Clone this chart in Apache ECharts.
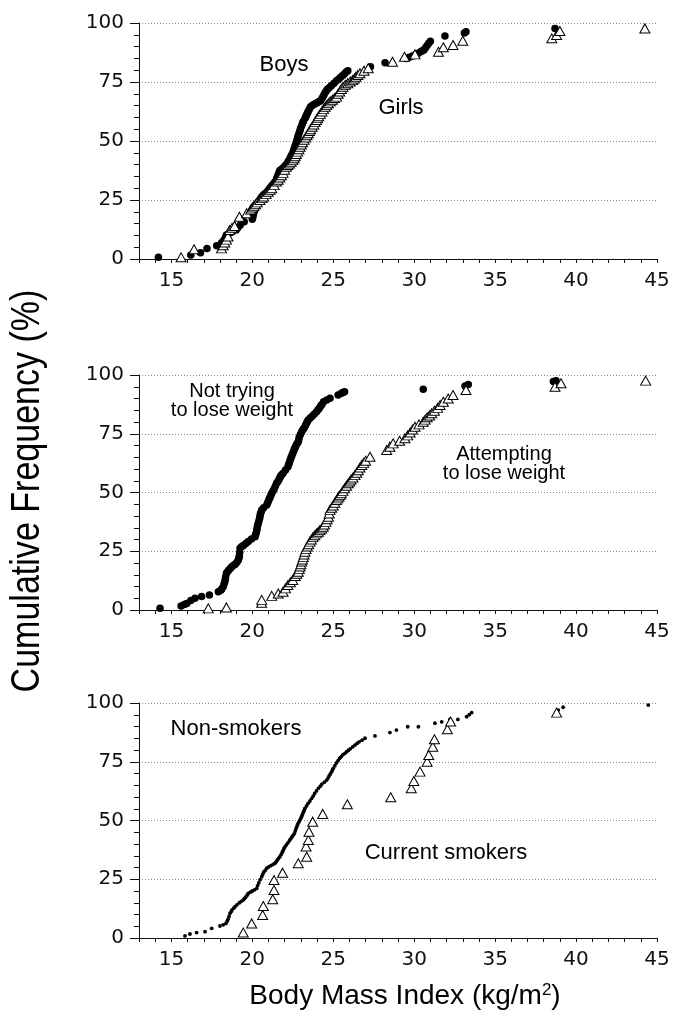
<!DOCTYPE html>
<html>
<head>
<meta charset="utf-8">
<script src="https://cdn.jsdelivr.net/npm/echarts@6/dist/echarts.min.js"></script>
<style>html,body{margin:0;padding:0;background:#fff;}#c{width:675px;height:1013px;}</style>
</head>
<body>
<div id="c"></div>
<script>
// ---- Data (BMI kg/m2, cumulative frequency %) ----
const boys = [[14.2,0.7],[16.2,1.7],[16.8,2.7],[17.2,4.5],[17.8,5.6],[18.1,6.9],[18.25,8],[18.35,9.2],[18.4,10.2],[18.55,10.8],[18.7,11.3],[19.0,12.3],[19.1,13.2],[19.25,14.3],[19.5,15.8],[20.0,16.8],[20.03,17.8],[20.06,18.8],[20.1,19.8],[20.15,20.8],[20.2,21.6],[20.25,22.3],[20.3,23],[20.35,23.8],[20.4,24.5],[20.5,25.5],[20.6,26.5],[20.7,27.2],[20.8,27.8],[20.9,28.4],[21.0,29.2],[21.1,30.2],[21.2,31],[21.3,31.8],[21.4,32.7],[21.5,34],[21.55,34.8],[21.6,35.7],[21.65,36.6],[21.7,37.5],[21.8,38],[21.9,38.6],[22.0,39.3],[22.1,40],[22.2,41.2],[22.28,42],[22.35,43],[22.42,44],[22.5,45],[22.55,46],[22.6,47],[22.65,48],[22.7,49],[22.75,50.2],[22.8,51.5],[22.85,52.5],[22.9,53.5],[22.95,54.5],[22.98,55.4],[23.05,56.5],[23.1,57.5],[23.15,58.3],[23.25,59.5],[23.3,60.3],[23.35,61],[23.4,61.8],[23.45,62.5],[23.52,63.5],[23.6,64.5],[23.7,65],[23.8,65.5],[23.9,65.9],[24.0,66.2],[24.1,66.6],[24.2,67],[24.28,67.8],[24.35,68.5],[24.42,69.5],[24.5,70.5],[24.58,71.3],[24.65,72],[24.78,72.8],[24.9,73.5],[25.05,74.5],[25.2,75.5],[25.33,76.2],[25.45,77],[25.58,77.8],[25.7,78.5],[25.8,79.2],[25.9,79.8],[27.3,81.5],[28.2,83.2],[29.5,85],[29.7,85.5],[29.9,86],[30.05,86.4],[30.25,87.2],[30.4,87.8],[30.5,88.2],[30.6,88.6],[30.7,89.5],[30.8,90.5],[30.9,91.4],[31.0,92.3],[31.9,94.5],[33.1,95.8],[33.2,96.3],[38.7,97.7]];
const girls = [[15.6,0.7],[16.4,4.1],[18.1,4.5],[18.2,5.8],[18.3,7],[18.4,8.2],[18.5,9.5],[18.6,12.3],[18.75,13.2],[18.9,14],[19.2,17.9],[19.65,19.4],[19.9,21],[20.0,21.8],[20.1,22.5],[20.2,23.2],[20.3,24],[20.47,25],[20.6,25.8],[20.7,26.5],[20.85,27.5],[20.98,28.5],[21.1,29.3],[21.2,30],[21.35,31.3],[21.5,32.8],[21.6,33.6],[21.7,34.5],[21.8,35.5],[21.9,36.5],[22.0,37.8],[22.1,39.1],[22.2,39.8],[22.3,40.5],[22.4,41.2],[22.5,41.9],[22.58,42.7],[22.65,43.5],[22.72,44.5],[22.8,45.5],[22.88,46.5],[22.95,47.6],[23.03,48.5],[23.1,49.5],[23.2,50.5],[23.3,51.5],[23.38,52.4],[23.46,53.3],[23.53,54.2],[23.6,55],[23.7,56],[23.8,57],[23.88,58],[23.97,58.9],[24.03,59.7],[24.1,60.5],[24.2,61.5],[24.3,62.5],[24.4,63.5],[24.5,64.5],[24.6,65.2],[24.7,66],[24.82,66.8],[24.95,67.5],[25.08,68.2],[25.2,68.8],[25.3,70],[25.4,71],[25.5,72],[25.6,73],[25.75,73.8],[25.9,74.5],[26.05,75.2],[26.2,75.8],[26.3,76.5],[26.4,77.2],[26.52,78],[26.65,78.7],[26.9,79.8],[27.16,80.8],[28.66,83.6],[29.4,85.7],[30.05,86.7],[31.5,87.8],[31.8,89.7],[32.4,90.7],[33.0,92.5],[38.5,93.5],[38.8,94.9],[39.0,96.6],[44.25,97.7]];
const notTrying = [[14.3,0.7],[15.6,1.7],[15.8,2.3],[15.95,2.8],[16.2,4],[16.46,5],[16.87,5.7],[17.35,6.4],[17.9,7.8],[18.05,8.4],[18.1,8.8],[18.2,9.9],[18.25,11],[18.3,12],[18.33,13],[18.35,14],[18.4,15.6],[18.47,16.3],[18.55,17],[18.65,17.8],[18.73,18.4],[18.85,19],[18.95,19.5],[19.05,20.3],[19.14,21.3],[19.18,22.2],[19.2,23],[19.22,24.5],[19.24,26.3],[19.35,27],[19.45,27.5],[19.6,28.3],[19.75,29.1],[19.95,30.2],[20.17,31.2],[20.2,32],[20.25,33],[20.28,34],[20.3,35],[20.33,36],[20.37,36.9],[20.41,38],[20.45,39],[20.48,40],[20.5,41],[20.55,41.8],[20.58,42.6],[20.7,43.5],[20.89,44.7],[20.95,45.6],[21.0,46.5],[21.05,47.3],[21.1,48],[21.15,48.8],[21.2,49.7],[21.28,50.6],[21.35,51.5],[21.42,52.7],[21.5,53.9],[21.58,54.7],[21.65,55.5],[21.7,56.3],[21.75,57],[21.82,57.6],[21.9,58.2],[22.05,59.6],[22.2,61],[22.25,62],[22.3,63],[22.35,64],[22.4,65],[22.45,65.8],[22.5,66.7],[22.55,67.6],[22.6,68.5],[22.65,69.2],[22.7,70],[22.77,70.8],[22.84,71.6],[22.87,72.5],[22.9,73.5],[22.97,74.7],[23.05,75.9],[23.12,76.7],[23.2,77.5],[23.28,78.5],[23.35,79.5],[23.4,80.2],[23.46,80.9],[23.58,81.7],[23.7,82.5],[23.83,83.4],[23.97,84.4],[24.06,85.2],[24.15,86],[24.22,86.8],[24.3,87.5],[24.4,88.6],[24.6,89.4],[24.8,90.1],[25.3,91.5],[25.5,92.2],[25.6,92.6],[25.7,92.9],[30.56,93.9],[33.14,95.3],[33.34,96],[38.6,97.2],[38.76,97.6]];
const attempting = [[17.28,0.7],[18.4,1.1],[20.58,3.1],[20.58,4.3],[21.2,6],[21.6,7],[21.9,7.8],[22.05,9.2],[22.2,10.6],[22.35,11.8],[22.5,12.8],[22.65,14.5],[22.75,15.4],[22.84,16.3],[22.9,17.4],[22.95,18.5],[23.0,19.5],[23.05,20.6],[23.1,21.5],[23.15,22.5],[23.2,23.6],[23.25,24.8],[23.32,25.9],[23.4,27],[23.48,28],[23.56,29.1],[23.65,30],[23.75,31],[23.86,31.8],[23.97,32.6],[24.08,33.3],[24.18,34],[24.28,34.7],[24.38,35.4],[24.46,36.4],[24.55,37.5],[24.62,38.6],[24.7,39.7],[24.75,41.1],[24.8,42.6],[24.9,43.5],[25.0,44.5],[25.1,45.6],[25.2,46.8],[25.28,47.5],[25.35,48.3],[25.43,49],[25.5,49.7],[25.6,50.7],[25.7,51.8],[25.82,52.9],[25.93,53.9],[26.02,54.7],[26.1,55.5],[26.22,56.4],[26.34,57.4],[26.45,58.4],[26.55,59.5],[26.65,60.6],[26.76,61.7],[26.88,62.6],[27.0,63.5],[27.27,65.2],[28.3,68.1],[28.5,69.5],[28.7,70.9],[29.1,72],[29.43,73.1],[29.6,74.3],[29.75,75.5],[29.9,76.8],[30.05,78],[30.3,79],[30.56,80.1],[30.68,81],[30.8,82],[30.95,82.8],[31.08,83.7],[31.25,84.8],[31.45,86],[31.6,87.2],[31.8,88.6],[32.1,90],[32.4,91.5],[33.2,93.6],[38.7,95],[39.07,96.5],[44.3,97.6]];
const nonSmokers = [[15.84,0.9],[16.15,1.7],[16.56,2.3],[17.08,2.7],[17.49,4.1],[18.0,5.1],[18.2,5.6],[18.37,6.2],[18.45,7.2],[18.5,8],[18.56,9.2],[18.62,10.5],[18.7,11.3],[18.75,12],[18.85,12.7],[18.93,13.3],[19.05,14.1],[19.2,15],[19.32,15.6],[19.44,16.2],[19.52,16.8],[19.6,17.5],[19.68,18.2],[19.75,19],[19.88,19.5],[20.0,20],[20.14,20.5],[20.27,21.1],[20.33,22.3],[20.4,23.5],[20.48,24.8],[20.58,26.1],[20.64,27],[20.7,28],[20.8,28.8],[20.89,29.7],[21.02,30.3],[21.15,30.8],[21.28,31.3],[21.4,31.8],[21.48,32.5],[21.55,33.2],[21.62,33.9],[21.7,34.6],[21.78,35.5],[21.85,36.5],[21.9,37.2],[21.95,38],[22.02,38.8],[22.1,39.6],[22.2,40.5],[22.3,41.5],[22.38,42.3],[22.45,43],[22.52,43.7],[22.6,44.5],[22.65,45.5],[22.7,46.5],[22.75,47.4],[22.8,48.3],[22.87,49.3],[22.94,50.2],[23.0,51],[23.05,51.8],[23.1,52.6],[23.15,53.5],[23.2,54.3],[23.25,55.2],[23.35,56.2],[23.45,57.3],[23.56,58.3],[23.67,59.4],[23.76,60.4],[23.85,61.5],[23.96,62.6],[24.08,63.7],[24.2,64.6],[24.3,65.5],[24.45,66.3],[24.6,67.2],[24.68,68.1],[24.75,69],[24.82,69.8],[24.9,70.7],[24.95,71.5],[25.0,72.2],[25.1,73.3],[25.2,74.5],[25.3,75.5],[25.4,76.5],[25.5,77.2],[25.6,78],[25.72,78.6],[25.83,79.3],[25.94,79.9],[26.05,80.5],[26.2,81.3],[26.34,82.1],[26.47,82.8],[26.6,83.5],[26.78,84.2],[26.96,85],[27.58,86],[28.5,87.4],[28.9,88.5],[29.6,89.9],[30.26,89.9],[31.28,91.4],[31.7,92],[32.2,93],[32.7,93],[33.24,94.2],[33.4,95],[33.55,95.9],[38.9,97],[39.2,98.2],[44.46,99.1]];
const smokers = [[19.44,2.3],[19.96,6.2],[20.64,9.8],[20.68,13.6],[21.26,16.5],[21.34,20.4],[21.34,24.7],[21.87,27.8],[22.84,31.8],[23.36,34.6],[23.32,38.9],[23.46,41.7],[23.5,45.2],[23.73,49.5],[24.35,52.8],[25.87,56.9],[28.55,59.9],[29.82,63.7],[29.98,66.8],[30.36,70.8],[30.8,75],[30.9,77.9],[31.15,81.4],[31.25,84.6],[32.05,88.8],[32.25,92.1],[38.8,95.9]];
const xLabelsShown = [15,20,25,30,35,40,45];
const yTicks = [0,25,50,75,100];

const tickFont = 'DejaVu Sans';
const grids = [
  {left:139, top:23, width:518, height:236},
  {left:139, top:375, width:518, height:235},
  {left:139, top:703, width:518, height:235}
];
function xAx(i){
  return {type:'value', gridIndex:i, min:13, max:45, interval:1,
    axisLine:{show:true, lineStyle:{color:'#111', width:1}},
    axisTick:{show:true, inside:false, length:4, lineStyle:{color:'#111'}},
    axisLabel:{interval:0, margin:12, fontSize:20, color:'#111', fontFamily:tickFont,
      formatter:v=> xLabelsShown.indexOf(v)>=0 ? String(v) : ''},
    splitLine:{show:false}};
}
function yAx(i){
  return {type:'value', gridIndex:i, min:0, max:100, interval:25,
    axisLine:{show:true, lineStyle:{color:'#111', width:1}},
    axisTick:{show:true, inside:false, length:9, lineStyle:{color:'#111'}},
    minorTick:{show:true, splitNumber:5, length:5, lineStyle:{color:'#111'}},
    axisLabel:{margin:15, fontSize:20, color:'#111', fontFamily:tickFont,
      formatter:v=> yTicks.indexOf(v)>=0 ? String(v) : ''},
    splitLine:{show:true, lineStyle:{color:'#8a8a8a', width:1, type:[1,2]}}};
}
const circ = {symbol:'circle', symbolSize:7.5, itemStyle:{color:'#000', opacity:1}};
const tri = {symbol:'triangle', symbolSize:[10,9], itemStyle:{color:'#fff', borderColor:'#000', borderWidth:1, opacity:1}};
function sc(i, data, style, name){
  return Object.assign({type:'scatter', name:name, xAxisIndex:i, yAxisIndex:i, data:data, silent:true, animation:false}, style);
}
const annFont = 'Liberation Sans, Arial, sans-serif';
function ann(x, y, text, size){
  return {type:'text', x:x, y:y, style:{text:text, fontSize:size, fontFamily:annFont, fill:'#000', align:'center', verticalAlign:'middle', lineHeight:19}};
}
const option = {
  animation:false,
  backgroundColor:'#fff',
  grid: grids,
  xAxis:[xAx(0),xAx(1),xAx(2)],
  yAxis:[yAx(0),yAx(1),yAx(2)],
  series:[
    sc(0, boys, circ, 'Boys'),
    sc(0, girls, tri, 'Girls'),
    sc(1, notTrying, circ, 'Not trying to lose weight'),
    sc(1, attempting, tri, 'Attempting to lose weight'),
    sc(2, nonSmokers, {symbol:'circle', symbolSize:3.8, itemStyle:{color:'#000', opacity:1}}, 'Non-smokers'),
    sc(2, smokers, tri, 'Current smokers')
  ],
  graphic:[
    ann(284, 65, 'Boys', 22),
    ann(401, 108, 'Girls', 22),
    ann(232, 401, 'Not trying\nto lose weight', 20),
    ann(504, 464, 'Attempting\nto lose weight', 20),
    ann(236, 729, 'Non-smokers', 22),
    ann(446, 853, 'Current smokers', 22),
    {type:'text', x:28, y:491, rotation:Math.PI/2, scaleX:0.83, scaleY:1,
      style:{text:'Cumulative Frequency (%)', fontSize:41, fontFamily:annFont, fill:'#000', align:'center', verticalAlign:'middle'}},
    {type:'text', x:405, y:996,
      style:{text:'Body Mass Index (kg/m{s|2})', fontSize:28, fontFamily:annFont, fill:'#000', align:'center', verticalAlign:'middle',
        rich:{s:{fontSize:17, fontFamily:annFont, verticalAlign:'top', padding:[0,0,12,0]}}}}
  ]
};
const chart = echarts.init(document.getElementById('c'), null, {renderer:'canvas'});
chart.setOption(option);
</script>
</body>
</html>
